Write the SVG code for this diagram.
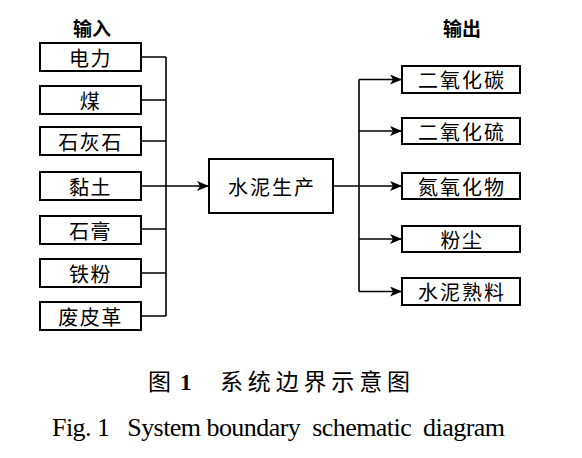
<svg xmlns="http://www.w3.org/2000/svg" width="582" height="458" viewBox="0 0 582 458">
<style>
.box{fill:#fff;stroke:#000;stroke-width:2}
.t{font-family:"Noto Sans CJK SC","Liberation Sans",sans-serif;font-size:20px;fill:#000;text-anchor:middle;dominant-baseline:central;letter-spacing:1.5px}
.h{font-family:"Noto Sans CJK SC","Liberation Sans",sans-serif;font-size:19px;font-weight:bold;fill:#000;text-anchor:middle;dominant-baseline:central}
.ln{fill:none;stroke:#000;stroke-width:1.6}
.cap{font-family:"Liberation Serif","Noto Sans CJK SC",serif;font-size:23px;fill:#000;dominant-baseline:central}
</style>
<defs>
<marker id="arr" viewBox="0 0 12 10" refX="12" refY="5" markerWidth="12" markerHeight="10" markerUnits="userSpaceOnUse" orient="auto">
<path d="M0,0 L12,5 L0,10 L3,5 Z" fill="#000"/>
</marker>
</defs>
<rect width="582" height="458" fill="#fff"/>
<text class="h" x="92" y="27">输入</text>
<text class="h" x="462" y="27">输出</text>
<g id="connectors">
<path class="ln" d="M141,57 H166 M141,100 H166 M141,141 H166 M141,229 H166 M141,273 H166 M141,316 H166 M166,57 V316"/>
<path class="ln" d="M141,186 H209" marker-end="url(#arr)"/>
<path class="ln" d="M333,186 H359 M359,79.5 V291.5"/>
<path class="ln" d="M359,79.5 H402" marker-end="url(#arr)"/>
<path class="ln" d="M359,131 H402" marker-end="url(#arr)"/>
<path class="ln" d="M359,186 H402" marker-end="url(#arr)"/>
<path class="ln" d="M359,239 H402" marker-end="url(#arr)"/>
<path class="ln" d="M359,291.5 H402" marker-end="url(#arr)"/>
</g>
<g id="n-dianli"><rect class="box" x="40" y="43" width="101" height="28"/><text class="t" x="90.5" y="57">电力</text></g>
<g id="n-mei"><rect class="box" x="40" y="86" width="101" height="28"/><text class="t" x="90.5" y="100">煤</text></g>
<g id="n-shihuishi"><rect class="box" x="40" y="127" width="101" height="28"/><text class="t" x="90.5" y="141">石灰石</text></g>
<g id="n-niantu"><rect class="box" x="40" y="172" width="101" height="28"/><text class="t" x="90.5" y="186">黏土</text></g>
<g id="n-shigao"><rect class="box" x="40" y="216" width="101" height="28"/><text class="t" x="90.5" y="230">石膏</text></g>
<g id="n-tiefen"><rect class="box" x="40" y="259" width="101" height="28"/><text class="t" x="90.5" y="273">铁粉</text></g>
<g id="n-feipige"><rect class="box" x="40" y="302" width="101" height="28"/><text class="t" x="90.5" y="316">废皮革</text></g>
<g id="n-process"><rect class="box" x="209" y="159" width="124" height="54"/><text class="t" x="272" y="186" style="letter-spacing:2px">水泥生产</text></g>
<g id="n-co2"><rect class="box" x="402" y="66" width="118" height="27"/><text class="t" x="462" y="79.5" style="letter-spacing:2px">二氧化碳</text></g>
<g id="n-so2"><rect class="box" x="402" y="118" width="118" height="26"/><text class="t" x="462" y="131" style="letter-spacing:2px">二氧化硫</text></g>
<g id="n-nox"><rect class="box" x="402" y="173" width="118" height="26"/><text class="t" x="462" y="186" style="letter-spacing:2px">氮氧化物</text></g>
<g id="n-dust"><rect class="box" x="402" y="226" width="118" height="26"/><text class="t" x="462" y="239">粉尘</text></g>
<g id="n-clinker"><rect class="box" x="402" y="278" width="118" height="27"/><text class="t" x="462" y="291.5" style="letter-spacing:2px">水泥熟料</text></g>
<text class="cap" x="148" y="382">图</text>
<text class="cap" x="180" y="382" style="font-weight:bold">1</text>
<text class="cap" x="220" y="382" textLength="190" lengthAdjust="spacing">系统边界示意图</text>
<text class="cap" x="52" y="427" style="font-size:26px" textLength="453" lengthAdjust="spacing" xml:space="preserve">Fig. 1   System boundary  schematic  diagram</text>
</svg>
